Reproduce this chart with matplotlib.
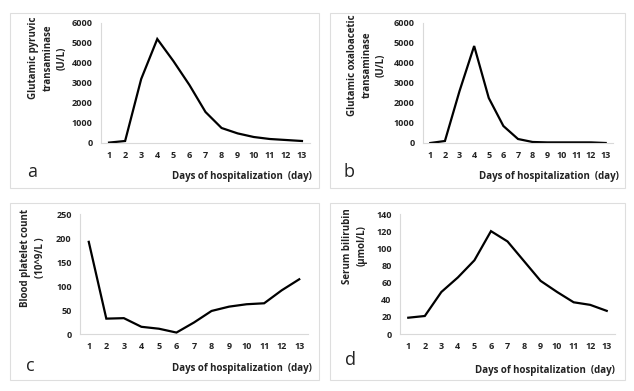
import matplotlib
matplotlib.use('Agg')
import matplotlib.pyplot as plt
import matplotlib.patches as mpatches

W, H = 634, 391
plt.rcParams['font.family'] = ['Open Sans', 'DejaVu Sans']

dias = list(range(1, 14))
tgp = [20, 100, 3200, 5200, 4100, 2900, 1550, 750, 480, 300, 200, 150, 100]
tgo = [0, 100, 2600, 4850, 2250, 850, 200, 50, 30, 30, 30, 30, 0]
plaquetas = [192, 32, 33, 15, 11, 3, 24, 48, 57, 62, 64, 91, 114]
bilirrubina = [19, 21, 49, 66, 86, 120, 108, 85, 62, 49, 37, 34, 27]

COR_EIXO = '#d9d9d9'
XLABEL = 'Days of hospitalization  (day)'

# borda do painel, caixa dos eixos (px), dados, escala, rótulos
paineis = [
    dict(borda=(10, 13, 319, 188), eixos=(101, 23, 310, 143), y=tgp, ymax=6000, passo=1000,
         ylabel='Glutamic pyruvic\ntransaminase\n(U/L)', ylc=(48, 58),
         letra='a', lpos=(32, 172), xlpos=(312, 177)),
    dict(borda=(330, 13, 625, 188), eixos=(423, 23, 613, 143), y=tgo, ymax=6000, passo=1000,
         ylabel='Glutamic oxaloacetic\ntransaminase\n(U/L)', ylc=(367, 65),
         letra='b', lpos=(349, 172), xlpos=(619, 176)),
    dict(borda=(10, 203, 319, 380), eixos=(80, 214, 308, 334), y=plaquetas, ymax=250, passo=50,
         ylabel='Blood platelet count\n(10^9/L )', ylc=(33, 258),
         letra='c', lpos=(30, 366), xlpos=(312, 368)),
    dict(borda=(330, 203, 625, 380), eixos=(400, 214, 615, 334), y=bilirrubina, ymax=140, passo=20,
         ylabel='Serum bilirubin\n(μmol/L)', ylc=(355, 246),
         letra='d', lpos=(350, 360), xlpos=(615, 370)),
]

fig = plt.figure(figsize=(W / 100, H / 100), dpi=100)
fig.patch.set_facecolor('white')

for p in paineis:
    x0, y0, x1, y1 = p['borda']
    fig.patches.append(mpatches.Rectangle((x0 / W, 1 - y1 / H), (x1 - x0) / W, (y1 - y0) / H,
                                          transform=fig.transFigure, fill=False,
                                          edgecolor='#dedede', linewidth=0.8))
    ax0, ay0, ax1, ay1 = p['eixos']
    ax = fig.add_axes([ax0 / W, 1 - ay1 / H, (ax1 - ax0) / W, (ay1 - ay0) / H])
    ax.plot(dias, p['y'], color='black', linewidth=1.6, solid_joinstyle='miter')
    ax.set_xlim(0.5, 13.5)
    ax.set_ylim(0, p['ymax'])
    ax.set_xticks(dias)
    ax.set_yticks(range(0, p['ymax'] + 1, p['passo']))
    ax.tick_params(length=0, labelsize=6.5, pad=6)
    for t in ax.get_xticklabels() + ax.get_yticklabels():
        t.set_fontweight('bold')
        t.set_color('#222222')
    for s in ['top', 'right']:
        ax.spines[s].set_visible(False)
    for s in ['left', 'bottom']:
        ax.spines[s].set_color(COR_EIXO)
        ax.spines[s].set_linewidth(0.8)
    ax.patch.set_alpha(0)

    fig.text(p['ylc'][0] / W, 1 - p['ylc'][1] / H, p['ylabel'], rotation=90,
             ha='center', va='center', multialignment='center',
             fontsize=7, fontweight='bold', color='#222222', linespacing=1.45)
    fig.text(p['lpos'][0] / W, 1 - p['lpos'][1] / H, p['letra'],
             ha='center', va='center', fontsize=13, color='#222222')
    fig.text(p['xlpos'][0] / W, 1 - p['xlpos'][1] / H, XLABEL,
             ha='right', va='center', fontsize=7, fontweight='bold', color='#222222')

fig.savefig('out.png', dpi=100, facecolor='white')
